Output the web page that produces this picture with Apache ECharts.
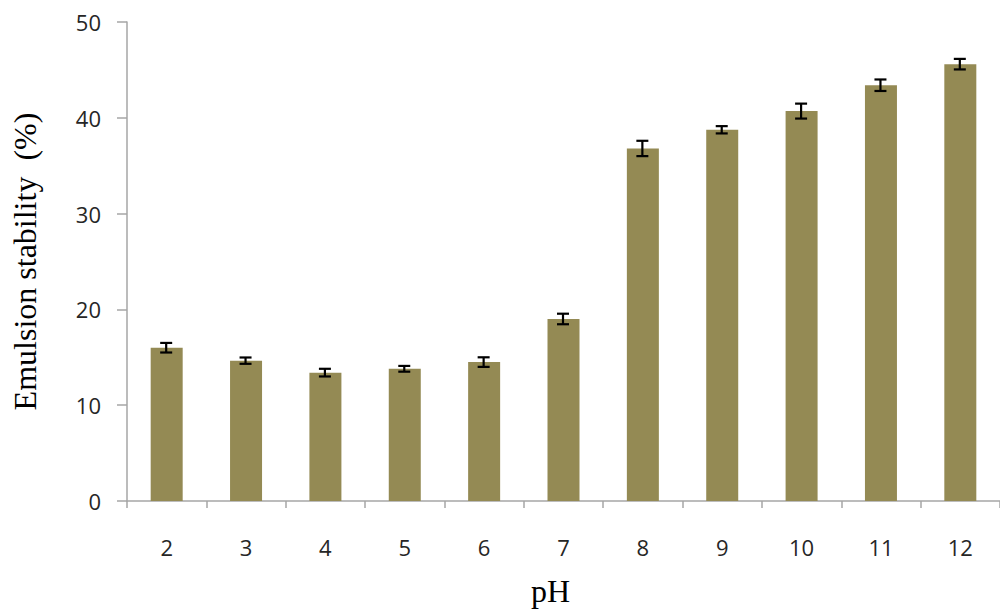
<!DOCTYPE html>
<html>
<head>
<meta charset="utf-8">
<script src="https://cdn.jsdelivr.net/npm/echarts@6/dist/echarts.min.js"></script>
<style>html,body{margin:0;padding:0;background:#fff}#c{width:1000px;height:615px}</style>
</head>
<body>
<div id="c"></div>
<script>
const categories = ['2','3','4','5','6','7','8','9','10','11','12'];
const stability = [16.0, 14.65, 13.4, 13.8, 14.5, 19.0, 36.8, 38.75, 40.7, 43.4, 45.6];
const errors = [0.5, 0.33, 0.4, 0.3, 0.5, 0.55, 0.8, 0.38, 0.78, 0.6, 0.55];
const yTicks = [0, 10, 20, 30, 40, 50];

const chart = echarts.init(document.getElementById('c'), null, {renderer: 'svg'});
const axisColor = '#A6A6A6';
chart.setOption({
  animation: false,
  backgroundColor: '#fff',
  grid: {left: 127, right: -13, top: 22, bottom: 114, containLabel: false},
  xAxis: {
    type: 'category',
    data: categories,
    boundaryGap: true,
    axisLine: {lineStyle: {color: axisColor, width: 1.5}},
    axisTick: {show: true, length: 7, alignWithLabel: false, lineStyle: {color: axisColor, width: 1.5}},
    axisLabel: {color: '#262626', fontFamily: 'Open Sans', fontSize: 22, margin: 35},
    name: 'pH',
    nameLocation: 'middle',
    nameGap: 74,
    nameTextStyle: {fontFamily: 'Liberation Serif', fontSize: 32, color: '#000', padding: [0, 26, 0, 0]}
  },
  yAxis: {
    type: 'value',
    min: yTicks[0],
    max: yTicks[yTicks.length - 1],
    interval: 10,
    splitLine: {show: false},
    axisLine: {show: true, lineStyle: {color: axisColor, width: 1.5}},
    axisTick: {show: true, length: 10, lineStyle: {color: axisColor, width: 1.5}},
    axisLabel: {color: '#262626', fontFamily: 'Open Sans', fontSize: 22, margin: 26},
    name: 'Emulsion stability  (%)',
    nameLocation: 'middle',
    nameGap: 86,
    nameTextStyle: {fontFamily: 'Liberation Serif', fontSize: 32, color: '#000'}
  },
  series: [
    {
      type: 'bar',
      data: stability,
      barWidth: 32,
      itemStyle: {color: '#948A54'},
      z: 2
    },
    {
      type: 'custom',
      z: 3,
      data: stability.map((v, i) => [i, v - errors[i], v + errors[i]]),
      renderItem: function (params, api) {
        const lo = api.coord([api.value(0), api.value(1)]);
        const hi = api.coord([api.value(0), api.value(2)]);
        const x = lo[0] - 0.5;
        const hw = 6;
        const st = {stroke: '#000', lineWidth: 2.2};
        return {
          type: 'group',
          children: [
            {type: 'line', shape: {x1: x, y1: lo[1], x2: x, y2: hi[1]}, style: st},
            {type: 'line', shape: {x1: x - hw, y1: lo[1], x2: x + hw, y2: lo[1]}, style: st},
            {type: 'line', shape: {x1: x - hw, y1: hi[1], x2: x + hw, y2: hi[1]}, style: st}
          ]
        };
      }
    }
  ]
});
</script>
</body>
</html>
